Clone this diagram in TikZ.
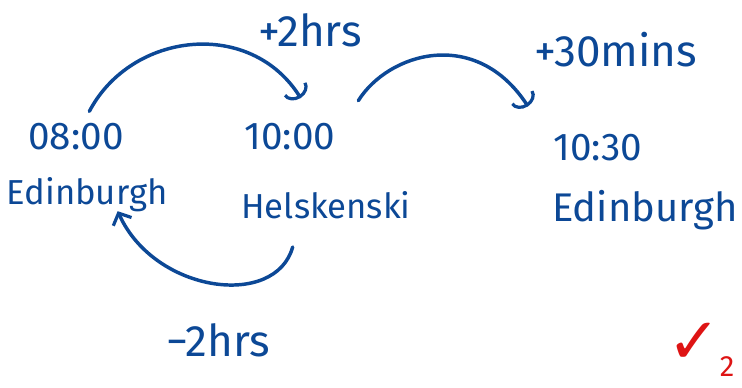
\documentclass[tikz,border=0pt]{standalone}
\usepackage{fontspec}
\setmainfont{Fira Sans}
\newfontfamily\symbolfont{DejaVu Sans}
\usetikzlibrary{arrows.meta, positioning}
\definecolor{inkblue}{RGB}{12,72,150}
\definecolor{inkred}{RGB}{222,20,20}

\begin{document}
\begin{tikzpicture}[x=0.75pt, y=0.75pt,
        every node/.style={text=inkblue, inner sep=1pt},
        time/.style={font=\fontsize{29}{32}\selectfont},
        city/.style={font=\fontsize{26}{28}\selectfont},
        offset/.style={font=\fontsize{33}{36}\selectfont},
        hop/.style={draw=inkblue, line width=2.6pt, line cap=round},
        ahead/.style={-{Arc Barb[length=8pt, width=20pt, line width=2.4pt]}},
        back/.style={-{Straight Barb[length=7pt, width=15pt, line width=2.4pt]}}]
        \useasboundingbox (0,0) rectangle (742,387);
        % times and places
        \node (t0) [time] at (76,250) {08:00};
        \node (t1) [time] at (290,250) {10:00};
        \node (t2) [time] at (598,239) {10:30};
        \node (c0) [city] at (87,192) {Edinburgh};
        \node (c1) [city] at (326,182) {Helskenski};
        \node (c2) [city, font=\fontsize{30}{32}\selectfont] at (645,177) {Edinburgh};
        % offsets
        \node (p2) [offset] at (310,357) {+2hrs};
        \node (p30) [offset] at (616,337) {+30mins};
        \node (m2) [offset] at (218,47) {−2hrs};
        \node (ok) [text=inkred, font=\symbolfont\fontsize{48}{50}\selectfont] at (694,44) {✓};
        \node (mark) [text=inkred, font=\fontsize{22}{24}\selectfont] at (727,20) {2};
        % arrows
        \draw [hop, ahead] ([xshift=10pt, yshift=8pt]t0.north)
            .. controls +(42,80) and +(-50,80) .. ([xshift=8pt, yshift=18pt]t1.north);
        \draw [hop, ahead] ([xshift=16pt, yshift=16pt]t1.north east)
            .. controls +(30,48) and +(-52,80) .. ([xshift=-18pt, yshift=20pt]t2.north west);
        \draw [hop, back] ([xshift=-25pt, yshift=-20pt]c1.south)
            .. controls +(-17,-62) and +(37,-82) .. ([xshift=23pt, yshift=2pt]c0.south);
    \end{tikzpicture}
\end{document}
